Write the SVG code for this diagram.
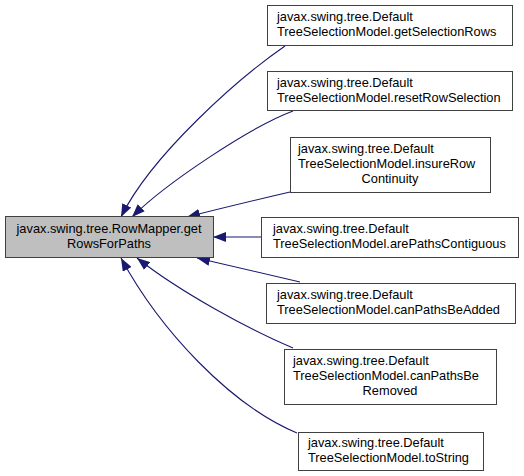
<svg xmlns="http://www.w3.org/2000/svg" width="524" height="476" viewBox="0 0 524 476">
<style>
.box{fill:#ffffff;stroke:#404040;stroke-width:1}
.main{fill:#bfbfbf;stroke:#404040;stroke-width:1}
text{font-family:"Liberation Sans",Arial,sans-serif;font-size:12.8px;fill:#000000}
.c{text-anchor:middle}
.edge{fill:none;stroke:#191970;stroke-width:1.1;marker-end:url(#arr)}
</style>
<defs>
<marker id="arr" markerWidth="13" markerHeight="10" refX="13" refY="5" orient="auto" markerUnits="userSpaceOnUse" viewBox="0 0 13 10">
<path d="M0,0 L13,5 L0,10 z" fill="#191970"/>
</marker>
</defs>
<rect width="524" height="476" fill="#ffffff"/>
<g id="edges">
<path class="edge" d="M285,46 C240,77 152,154 121,217"/>
<path class="edge" d="M293,111 C250,127 165,184 132,217"/>
<path class="edge" d="M290,192 C260,199 230,206 187,217"/>
<path class="edge" d="M261,237 L213,237"/>
<path class="edge" d="M300,282 C270,275 240,268 197,258"/>
<path class="edge" d="M293,348 C250,330 180,292 137,258"/>
<path class="edge" d="M297,433 C230,405 160,330 121,258"/>
</g>
<g id="main">
<rect class="main" x="5.5" y="216.5" width="208" height="41"/>
<text class="c" x="109" y="233">javax.swing.tree.RowMapper.get</text>
<text class="c" x="109" y="248">RowsForPaths</text>
</g>
<g id="n1">
<rect class="box" x="267.5" y="5.5" width="245" height="40"/>
<text x="277" y="21">javax.swing.tree.Default</text>
<text x="277" y="36">TreeSelectionModel.getSelectionRows</text>
</g>
<g id="n2">
<rect class="box" x="267.5" y="71.5" width="245" height="39"/>
<text x="277" y="87">javax.swing.tree.Default</text>
<text x="277" y="102">TreeSelectionModel.resetRowSelection</text>
</g>
<g id="n3">
<rect class="box" x="290.5" y="137.5" width="200" height="55"/>
<text x="298" y="153">javax.swing.tree.Default</text>
<text x="298" y="168">TreeSelectionModel.insureRow</text>
<text class="c" x="390" y="183">Continuity</text>
</g>
<g id="n4">
<rect class="box" x="261.5" y="217.5" width="257" height="40"/>
<text x="273" y="233">javax.swing.tree.Default</text>
<text x="273" y="248">TreeSelectionModel.arePathsContiguous</text>
</g>
<g id="n5">
<rect class="box" x="266.5" y="283.5" width="249" height="40"/>
<text x="277" y="299">javax.swing.tree.Default</text>
<text x="277" y="314">TreeSelectionModel.canPathsBeAdded</text>
</g>
<g id="n6">
<rect class="box" x="284.5" y="349.5" width="212" height="55"/>
<text x="293" y="365">javax.swing.tree.Default</text>
<text x="293" y="380">TreeSelectionModel.canPathsBe</text>
<text class="c" x="390" y="395">Removed</text>
</g>
<g id="n7">
<rect class="box" x="298.5" y="432.5" width="185" height="38"/>
<text x="308" y="447">javax.swing.tree.Default</text>
<text x="308" y="462">TreeSelectionModel.toString</text>
</g>
</svg>
